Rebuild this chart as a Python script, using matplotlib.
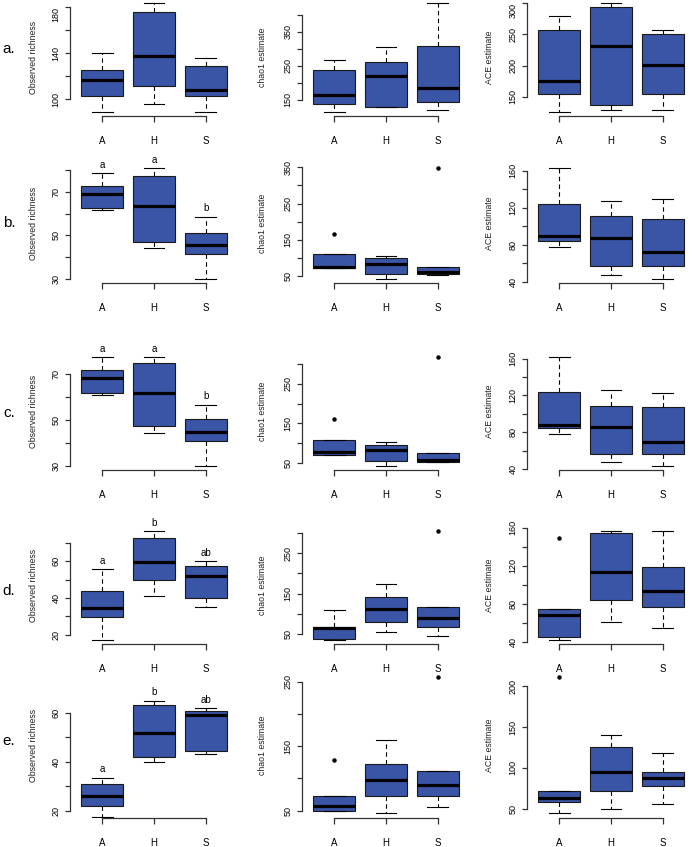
import numpy as np
import matplotlib
matplotlib.use("Agg")
import matplotlib.pyplot as plt

plt.rcParams['font.family'] = ['Liberation Sans', 'DejaVu Sans']

W, H = 692, 847
BLUE = '#3a54a6'

GROUPS = ['A', 'H', 'S']
ROW_LABELS = ['a.', 'b.', 'c.', 'd.', 'e.']
METRICS = ['Observed richness', 'chao1 estimate', 'ACE estimate']

# box stats per group A, H, S: [whisker low, Q1, median, Q3, whisker high]
obs_a = [[89, 102.7, 116.3, 125.3, 140.5], [96, 111.7, 137.6, 175.6, 183.5], [89, 102.7, 107.9, 129, 136]]
obs_b = [[61.4, 62.6, 68.9, 72.6, 78.5], [44.3, 46.9, 63.5, 77.4, 80.8], [30, 41.2, 45.5, 51.2, 58.5]]
obs_c = [[60.7, 61.6, 68.4, 71.9, 77.3], [44.1, 47.2, 61.7, 74.8, 77.3], [30, 40.9, 44.5, 50.5, 56.6]]
obs_d = [[17.3, 29.6, 34.5, 43.6, 55.6], [41.1, 50, 59.6, 72.7, 76.4], [34.9, 39.8, 52, 57.6, 60.2]]
obs_e = [[17.5, 22, 26, 31, 33.5], [40, 42.1, 51.8, 63.3, 65], [43.3, 44.5, 59.2, 60.8, 62]]

chao_a = [[115, 138, 163, 238, 268], [130, 130, 221, 262, 305], [120, 142, 186, 309, 434]]
chao_b = [[71, 71, 76, 111.6, 111.6], [42.6, 54.6, 84, 98.8, 105], [52, 54.6, 61, 75.8, 75.8]]
chao_c = [[71, 71, 77.8, 107, 107], [43.3, 54.2, 82, 96.3, 104], [52.5, 52.5, 57.6, 75.3, 75.3]]
chao_d = [[36, 37.6, 64.9, 68, 110], [55.8, 78.9, 111.9, 141.6, 173], [45, 66.5, 88.8, 116, 116]]
chao_e = [[49, 50, 58, 72, 72], [47, 72, 97, 123, 160], [56, 72, 90, 111, 111]]

ace_a = [[126, 155, 176, 257, 280], [128, 136.6, 232, 293.5, 300], [128, 155, 201, 250, 257]]
ace_b = [[77.5, 84.7, 89.4, 123.6, 162.5], [47.2, 57.3, 87.9, 111.4, 127.2], [43.6, 57.3, 72.4, 107.4, 130]]
ace_c = [[77.7, 84.6, 87.5, 123.7, 161.4], [47.6, 56.3, 86, 108.8, 126.2], [43.6, 56.3, 69.7, 107.4, 122.2]]
ace_d = [[42.4, 45.2, 68, 74.3, 74.3], [61, 84, 114.1, 154.7, 156.4], [55, 76.7, 93.5, 118.7, 156.4]]
ace_e = [[45, 58, 63, 71, 71], [50, 71, 95, 125, 140], [55, 78, 87, 95, 118]]

# outliers per group A, H, S
chao_b_out = [[165], [], [347]]
chao_c_out = [[162], [], [317]]
chao_d_out = [[], [], [304]]
chao_e_out = [[128], [], [257]]
ace_d_out = [[149.4], [], []]
ace_e_out = [[211], [], []]
no_out = [[], [], []]

# y axis ticks per panel
obs_ticks = [[100, 120, 140, 160, 180], [30, 40, 50, 60, 70, 80], [30, 40, 50, 60, 70],
             [20, 30, 40, 50, 60, 70], [20, 30, 40, 50, 60]]
chao_ticks = [[150, 200, 250, 300, 350, 400], [50, 100, 150, 200, 250, 300, 350],
              [50, 100, 150, 200, 250, 300], [50, 100, 150, 200, 250, 300],
              [50, 100, 150, 200, 250]]
ace_ticks = [[150, 200, 250, 300], [40, 60, 80, 100, 120, 140, 160], [40, 60, 80, 100, 120, 140, 160],
             [40, 60, 80, 100, 120, 140, 160], [50, 100, 150, 200]]
# 2 = label every second tick, 1 = label all
obs_step = [2, 2, 2, 2, 2]
chao_step = [2, 2, 2, 2, 2]
ace_step = [1, 2, 2, 2, 1]

# richness panel of row e keeps headroom for the letters
ylim_fixed = {(4, 0): (17.1, 76.7)}

# significance letters above the observed richness boxes
letters = [None, ['a', 'a', 'b'], ['a', 'a', 'b'], ['a', 'b', 'ab'], ['a', 'b', 'ab']]

# panel layout in pixels
col_left = [70, 302, 527]
col_width = 168
row_box = [(-1, 116), (164, 283), (353, 470), (527, 644), (672, 818)]
ylab_x = [38, 267, 494]
row_lab_y = [49, 223, 413, 591, 741]


def draw_panel(ax, stats, fliers, ticks, step, lett, ylim=None):
    bx = []
    for s, f in zip(stats, fliers):
        bx.append(dict(whislo=s[0], q1=s[1], med=s[2], q3=s[3], whishi=s[4], fliers=f))
    ax.bxp(bx, positions=[1, 2, 3], widths=0.8, capwidths=0.4, patch_artist=True,
           boxprops=dict(facecolor=BLUE, edgecolor='#1a1a1a', linewidth=0.8),
           medianprops=dict(color='black', linewidth=2.3, solid_capstyle='butt'),
           whiskerprops=dict(color='black', linewidth=0.8, linestyle=(0, (4, 3))),
           capprops=dict(color='black', linewidth=0.8),
           flierprops=dict(marker='o', markersize=2.2, markerfacecolor='black',
                           markeredgecolor='black'))
    if ylim is None:
        vals = [v for s in stats for v in s] + [v for f in fliers for v in f]
        lo, hi = min(vals), max(vals)
        pad = 0.04 * (hi - lo)
        ylim = (lo - pad, hi + pad)
    ax.set_ylim(*ylim)
    ax.set_xlim(0.38, 3.62)

    for sp in ['top', 'right']:
        ax.spines[sp].set_visible(False)
    ax.spines['left'].set_bounds(ticks[0], ticks[-1])
    ax.spines['bottom'].set_bounds(1, 3)
    for sp in ['left', 'bottom']:
        ax.spines[sp].set_color('#333333')
        ax.spines[sp].set_linewidth(0.9)

    ax.set_xticks([1, 2, 3])
    ax.set_xticklabels(GROUPS)
    ax.set_yticks(ticks)
    ax.set_yticklabels([str(t) if i % step == 0 else '' for i, t in enumerate(ticks)])
    ax.tick_params(axis='x', length=4.5, width=0.9, color='#333333', pad=10, labelsize=7)
    ax.tick_params(axis='y', length=3.6, width=0.9, color='#333333', pad=3.2, labelsize=6.5,
                   labelrotation=90)
    for lab in ax.get_yticklabels():
        lab.set_va('center')

    if lett:
        for i, t in enumerate(lett):
            ax.annotate(t, xy=(i + 1, stats[i][4]), xytext=(0, 2.5), textcoords='offset points',
                        ha='center', va='bottom', fontsize=7, annotation_clip=False)


fig = plt.figure(figsize=(W / 100, H / 100), dpi=100)

panels = [
    [(obs_a, no_out), (chao_a, no_out), (ace_a, no_out)],
    [(obs_b, no_out), (chao_b, chao_b_out), (ace_b, no_out)],
    [(obs_c, no_out), (chao_c, chao_c_out), (ace_c, no_out)],
    [(obs_d, no_out), (chao_d, chao_d_out), (ace_d, ace_d_out)],
    [(obs_e, no_out), (chao_e, chao_e_out), (ace_e, ace_e_out)],
]
all_ticks = [obs_ticks, chao_ticks, ace_ticks]
all_steps = [obs_step, chao_step, ace_step]

for r in range(5):
    top, bot = row_box[r]
    for c in range(3):
        ax = fig.add_axes([col_left[c] / W, 1 - bot / H, col_width / W, (bot - top) / H])
        ax.patch.set_alpha(0)
        stats, outs = panels[r][c]
        draw_panel(ax, stats, outs, all_ticks[c][r], all_steps[c][r],
                   letters[r] if c == 0 else None, ylim_fixed.get((r, c)))
        ax.set_ylabel(METRICS[c], fontsize=6.3, color='#222222')
        ax.yaxis.set_label_coords((ylab_x[c] - col_left[c]) / col_width, 0.5)
        if r == 0 and c != 1:
            # top label sits at the figure edge, push it below its tick
            ax.get_yticklabels()[-1].set_va('top')
    fig.text(9 / W, 1 - row_lab_y[r] / H, ROW_LABELS[r], fontsize=11, ha='center', va='center')

fig.savefig('out.png', dpi=100)
